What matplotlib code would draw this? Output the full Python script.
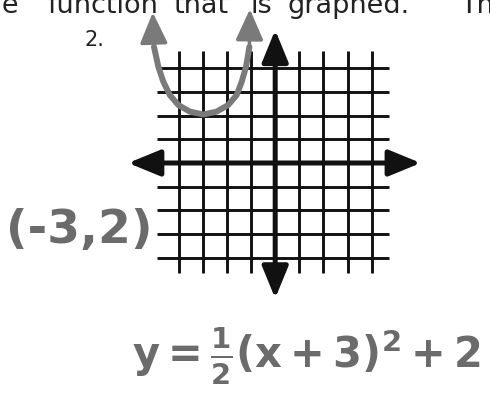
import matplotlib
matplotlib.use("Agg")
import matplotlib.pyplot as plt

# ---- data ----
grid_x = [-4, -3, -2, -1, 1, 2, 3, 4]
grid_y = [-4, -3, -2, -1, 1, 2, 3, 4]
curve_x = [-5.03, -4.85, -4.64, -4.37, -4.02, -3.54, -2.98, -2.43, -1.95, -1.60, -1.39, -1.21, -1.07]
curve_y = [4.91, 4.07, 3.43, 2.87, 2.45, 2.17, 2.05, 2.17, 2.45, 2.87, 3.43, 4.07, 4.91]
curve_tips = [(-5.08, 6.36), (-1.05, 6.5)]
problem_label = "2."
vertex_label = "(-3,2)"
equation_label = r"$\mathbf{y=\frac{1}{2}(x+3)^2+2}$"
header_words = ["the", "function", "that", "is", "graphed.", "Th"]

W, H = 490, 408
fig = plt.figure(figsize=(W / 100, H / 100), dpi=100)
fig.patch.set_facecolor("white")
ax = fig.add_axes([0, 0, 1, 1])
ax.set_axis_off()
# pixel mapping: x_px = 275.2 + 24.1*x ; y_px = 163 - 23.67*y
ax.set_xlim(-275.2 / 24.1, (W - 275.2) / 24.1)
ax.set_ylim((163 - H) / 23.67, 163 / 23.67)

ink = "#111111"
gray = "#7a7a7a"

# grid lines
ax.vlines(grid_x, -4.66, 4.73, colors=ink, lw=2.1, zorder=2)
ax.hlines(grid_y, -4.92, 4.73, colors=ink, lw=2.1, zorder=2)

# axes with arrowheads
astyle = "<|-|>,head_length=1.95,head_width=0.8"
ax.annotate("", xy=(6.04, 0), xytext=(-6.10, 0),
            arrowprops=dict(arrowstyle=astyle, mutation_scale=10, lw=3.6,
                            color=ink, shrinkA=0, shrinkB=0), zorder=3)
ax.annotate("", xy=(0, 5.62), xytext=(0, -5.72),
            arrowprops=dict(arrowstyle=astyle, mutation_scale=10, lw=3.6,
                            color=ink, shrinkA=0, shrinkB=0), zorder=3)

# hand-drawn parabola
ax.plot(curve_x, curve_y, color=gray, lw=4.3, solid_capstyle="round",
        solid_joinstyle="round", zorder=4)
pstyle = "-|>,head_length=1.9,head_width=0.85"
for (tx, ty), (bx, by) in zip(curve_tips, [(curve_x[0], curve_y[0]), (curve_x[-1], curve_y[-1])]):
    ax.annotate("", xy=(tx, ty), xytext=(bx, by),
                arrowprops=dict(arrowstyle=pstyle, mutation_scale=10, lw=2.5,
                                color=gray, shrinkA=0, shrinkB=0), zorder=4)

# header text (cut off at top, as in the scan)
word_x = [19, 47, 173, 250, 287, 460]
for i, (w, xp) in enumerate(zip(header_words, word_x)):
    fig.text(xp / W, 1 - 13 / H, w, ha="right" if i == 0 else "left",
             va="baseline", fontsize=19.5, color="#222222", family="DejaVu Sans")

fig.text(94.5 / W, 1 - 39.5 / H, problem_label, ha="center", va="center",
         fontsize=15, color="#222222")

# handwritten labels
fig.text(79 / W, 1 - 231 / H, vertex_label, ha="center", va="center",
         fontsize=34, fontweight="bold", color="#6b6b6b")
plt.rcParams["mathtext.fontset"] = "dejavusans"
fig.text(306 / W, 1 - 356 / H, equation_label, ha="center", va="center",
         fontsize=30, color="#6b6b6b")

fig.savefig("out.png", dpi=100, facecolor="white")
